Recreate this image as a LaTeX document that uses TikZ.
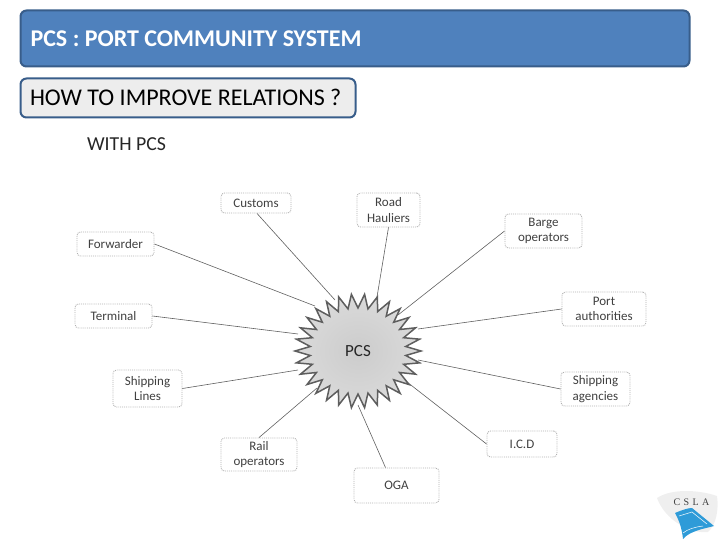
\documentclass[tikz,border=0pt]{standalone}
\usepackage{fontspec}
\setmainfont{Carlito}
\newfontfamily\logofont{Liberation Serif}
\definecolor{barfill}{HTML}{4F81BD}
\definecolor{barline}{HTML}{385D8A}
\definecolor{subfill}{HTML}{EDEDED}
\definecolor{boxline}{HTML}{B0B0B0}
\definecolor{linkline}{HTML}{606060}
\definecolor{starinner}{HTML}{CCCCCC}
\definecolor{starouter}{HTML}{DADADA}
\definecolor{starline}{HTML}{5E5E5E}
\definecolor{shipblue}{HTML}{2E9BD8}
\definecolor{mapgray}{HTML}{EFEFEF}
\tikzset{
  x=1pt,y=-1pt,
  party/.style={draw=boxline,densely dotted,line width=.9pt,rounded corners=3.5pt,align=center,
    font=\fontsize{13}{15.5}\selectfont,text=black!75,inner sep=0pt},
  link/.style={draw=linkline,line width=.6pt},
  banner/.style={draw=barline,line width=2pt,rounded corners=6pt,anchor=north west,inner sep=0pt},
}
\begin{document}
\begin{tikzpicture}
\useasboundingbox (0,0) rectangle (720,540);
% banners
\node[banner,fill=barfill,minimum width=669pt,minimum height=56pt] (bar) at (19.5,9.5) {};
\node[anchor=west,text=white,font=\bfseries\fontsize{24}{26}\selectfont] (title) at (27,38.5) {PCS : PORT COMMUNITY SYSTEM};
\node[banner,fill=subfill,minimum width=335pt,minimum height=39pt] (sub) at (19.5,77.5) {};
\node[anchor=west,text=black,font=\fontsize{24}{26}\selectfont] (subt) at (26.5,97) {HOW TO IMPROVE RELATIONS ?};
\node[anchor=west,text=black!85,font=\fontsize{19.8}{22}\selectfont] (with) at (83.5,144.5) {WITH PCS};
% end points on the star
\coordinate (eCustoms) at (335,300);
\coordinate (eForw) at (315,306);
\coordinate (eTerm) at (298,334);
\coordinate (eShipL) at (298,370);
\coordinate (eRail) at (317,388);
\coordinate (eOGA) at (358,405);
\coordinate (eICD) at (407,382);
\coordinate (eShipA) at (418,360);
\coordinate (ePort) at (418,329);
\coordinate (eBarge) at (398,315);
\coordinate (eRoad) at (377,297);
% boxes
\node[party,minimum width=70pt,minimum height=20pt] (customs) at (256,203) {Customs};
\node[party,minimum width=77pt,minimum height=24pt] (forw) at (115.5,244) {Forwarder};
\node[party,minimum width=77pt,minimum height=24pt] (term) at (113.5,316) {Terminal};
\node[party,minimum width=63pt,minimum height=34pt] (road) at (388.5,210) {Road\\Hauliers};
\node[party,minimum width=77pt,minimum height=34pt] (barge) at (543.5,231) {Barge\\operators};
\node[party,minimum width=84pt,minimum height=34pt] (port) at (604,309) {Port\\authorities};
\node[party,minimum width=69pt,minimum height=37pt] (shipl) at (147.5,388.5) {Shipping\\Lines};
\node[party,minimum width=76pt,minimum height=33pt] (rail) at (259,454.5) {Rail\\operators};
\node[party,minimum width=69pt,minimum height=34pt] (shipa) at (595.5,389) {Shipping\\agencies};
\node[party,minimum width=70pt,minimum height=26pt] (icd) at (522,444) {I.C.D};
\node[party,minimum width=85pt,minimum height=35pt] (oga) at (396.5,485.5) {OGA};
% connectors
\draw[link] (customs.south) ++(1,0) coordinate (sCustoms) -- (eCustoms);
\draw[link] (forw.east) -- (eForw);
\draw[link] (term.east) -- (eTerm);
\draw[link] (shipl.east) -- (eShipL);
\draw[link] (rail.north) -- (eRail);
\draw[link] (oga.north) ++(-11,0) coordinate (sOGA) -- (eOGA);
\draw[link] (icd.west) -- (eICD);
\draw[link] (shipa.west) -- (eShipA);
\draw[link] (port.west) -- (ePort);
\draw[link] (barge.west) -- (eBarge);
\draw[link] (road.south) -- (eRoad);
% star
\shadedraw[draw=starline,line width=1.5pt,inner color=starinner,outer color=starouter,line join=miter]
  plot[samples at={0,...,59}] ({358+(63-15*mod(\x,2))*cos(\x*6)},{351+(57-14*mod(\x,2))*sin(\x*6)}) -- cycle;
\node[font=\fontsize{17}{18}\selectfont,text=black!85] (pcs) at (358,351) {PCS};
% logo
\fill[mapgray] (657,498) .. controls (672,488) and (700,490) .. (717,496) .. controls (719,510) and (716,525) .. (708,532) .. controls (690,534) and (665,520) .. (657,498) -- cycle;
\node[font=\logofont\fontsize{10}{10}\selectfont,text=black!75] (csla) at (691.5,502) {C\,\,S\,\,L\,\,A};
\fill[shipblue] (675,513) .. controls (682,510) and (688,508) .. (692,508) -- (714,526) -- (702,529) .. controls (692,532) and (686,535) .. (683,539) .. controls (682,530) and (680,522) .. (675,513) -- cycle;
\draw[white,line width=.5pt] (679,516) -- (692,512) -- (707,524);
\draw[white,line width=.5pt] (683,533) .. controls (688,529) and (695,527) .. (703,526);
\end{tikzpicture}
\end{document}
